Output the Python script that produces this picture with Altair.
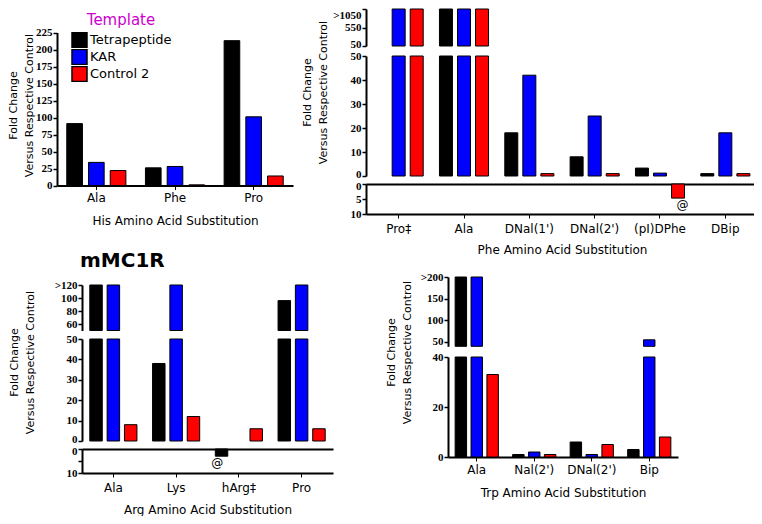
import altair as alt
import pandas as pd

series = ["Tetrapeptide", "KAR", "Control 2"]
series_colors = ["#000000", "#0000FF", "#FF0000"]

# His panel (Template)
his_cats = ["Ala", "Phe", "Pro"]
his_tetra = [91, 26, 213]
his_kar = [34, 28, 101]
his_ctrl = [22, 1, 14]

# Phe panel (">1050" bars stored as 1100)
phe_cats = ["Pro‡", "Ala", "DNal(1')", "DNal(2')", "(pI)DPhe", "DBip"]
phe_tetra = [None, 1100, 18, 8, 3.3, 1]
phe_kar = [1100, 1100, 42, 25, 1.2, 18]
phe_ctrl = [1100, 1100, 1, 1, -4.7, 1]

# Arg panel (mMC1R, ">120" bars stored as 130)
arg_cats = ["Ala", "Lys", "hArg‡", "Pro"]
arg_tetra = [130, 38, -3, 96]
arg_kar = [130, 130, None, 130]
arg_ctrl = [8, 12, 6, 6]

# Trp panel (">200" bars stored as 250)
trp_cats = ["Ala", "Nal(2')", "DNal(2')", "Bip"]
trp_tetra = [250, 1, 6, 3]
trp_kar = [250, 2, 1, 55]
trp_ctrl = [33, 1, 5, 8]


def long(panel, cats, tetra, kar, ctrl):
    rows = []
    for i, c in enumerate(cats):
        for s, vals in zip(series, (tetra, kar, ctrl)):
            v = vals[i]
            if v is None:
                continue
            rows.append({"panel": panel, "cat": c, "series": s, "value": v, "mag": abs(v)})
    return rows


df = pd.DataFrame(
    long("his", his_cats, his_tetra, his_kar, his_ctrl)
    + long("phe", phe_cats, phe_tetra, phe_kar, phe_ctrl)
    + long("arg", arg_cats, arg_tetra, arg_kar, arg_ctrl)
    + long("trp", trp_cats, trp_tetra, trp_kar, trp_ctrl)
)

O = 8
W = 746
H = 508
SANS = "DejaVu Sans"
SERIF = "Liberation Serif"
YTITLE = ["Fold Change", "Versus Respective Control"]

LEG = alt.Legend(
    orient="none", legendX=63, legendY=5, padding=0,
    title="Template", titleColor="#CC00CC", titleFont=SANS, titleFontSize=15,
    titleFontWeight="normal", titleAnchor="middle", titlePadding=4,
    symbolType="square", symbolSize=225, symbolStrokeColor="black",
    symbolStrokeWidth=1.5, symbolOpacity=1, clipHeight=16,
    labelFont=SANS, labelFontSize=13, labelOffset=2, rowPadding=1,
)

COLOR = alt.Color("series:N", scale=alt.Scale(domain=series, range=series_colors), legend=LEG)


def xscale(cats, xr):
    return alt.Scale(domain=cats, range=[xr[0] - O, xr[1] - O], paddingInner=0, paddingOuter=0)


def xoff():
    return alt.Scale(domain=series, paddingInner=0.28, paddingOuter=0.45)


def yaxis(x0, values, expr=None, shift=None, top_base=None, title=None, title_y=None, title_x=None):
    kw = dict(orient="left", offset=-(x0 - O), values=values, labelFont=SERIF,
              labelFontWeight="bold", labelFontSize=11, labelPadding=1, tickSize=4,
              domainWidth=2, tickWidth=1.5, grid=False)
    if expr:
        kw["labelExpr"] = expr
    if shift is not None:
        v, d = shift
        kw["labelOffset"] = {"condition": {"test": f"datum.value == {v}", "value": d}, "value": 0}
    if top_base is not None:
        kw["labelBaseline"] = {"condition": {"test": f"datum.value == {top_base}", "value": "top"},
                               "value": "middle"}
    if title:
        kw.update(title=title, titleY=title_y - O, titleX=title_x, titleFont=SANS,
                  titleFontSize=11, titleFontWeight="normal", titleLineHeight=16,
                  titleAlign="center", titleAngle=270, titleBaseline="bottom")
    else:
        kw["title"] = None
    return alt.Axis(**kw)


def xbottom(y, title, title_dy, lab_pad):
    return alt.Axis(orient="bottom", offset=(y - O) - H, title=title, titleY=title_dy,
                    titleBaseline="middle", titleFont=SANS, titleFontSize=12,
                    titleFontWeight="normal", labelFont=SANS, labelFontSize=12,
                    labelAngle=0, labelPadding=lab_pad, tickSize=4, domainWidth=2,
                    labelBaseline="top", grid=False)


def xtop(y):
    return alt.Axis(orient="top", offset=-(y - O), labels=False, ticks=False,
                    title=None, domainWidth=2, grid=False)


def bar_layer(panel, cats, xr, field, ydom, yr, cond, base, yax, xax):
    return alt.Chart(df).transform_filter(
        f"datum.panel == '{panel}' && {cond}"
    ).mark_bar(stroke="black", strokeWidth=1).encode(
        x=alt.X("cat:N", scale=xscale(cats, xr), axis=xax),
        xOffset=alt.XOffset("series:N", scale=xoff()),
        y=alt.Y(f"{field}:Q", axis=yax,
                scale=alt.Scale(domain=ydom, range=[yr[0] - O, yr[1] - O],
                                clamp=True, nice=False, zero=False)),
        y2=alt.datum(base),
        color=COLOR,
    )


def at_layer(panel, cats, xr, yr, xax):
    return alt.Chart(df).transform_filter(
        f"datum.panel == '{panel}' && datum.value < 0"
    ).mark_text(text="@", baseline="top", dy=2, font=SANS, fontSize=12, color="black").encode(
        x=alt.X("cat:N", scale=xscale(cats, xr), axis=xax),
        xOffset=alt.XOffset("series:N", scale=xoff()),
        y=alt.Y("mag:Q", axis=None,
                scale=alt.Scale(domain=[0, 10], range=[yr[0] - O, yr[1] - O], nice=False, zero=False)),
    )


layers = []

# Panel 1: His
p1x = (57, 293)
layers.append(bar_layer("his", his_cats, p1x, "value", [0, 225], (185.5, 32.5), "datum.value > 0", 0,
                        yaxis(57, list(range(0, 226, 25)), title=YTITLE, title_y=105, title_x=-39),
                        xbottom(185.5, "His Amino Acid Substitution", 35, 3)))

# Panel 2: Phe
p2x = (366, 758)
layers.append(bar_layer("phe", phe_cats, p2x, "value", [50, 1050], (46, 9), "datum.value > 50", 50,
                        yaxis(366, [50, 550, 1050], expr="datum.value == 1050 ? '>1050' : datum.label",
                              shift=(50, -2), top_base=1050),
                        None))
layers.append(bar_layer("phe", phe_cats, p2x, "value", [0, 50], (176, 56), "datum.value > 0", 0,
                        yaxis(366, [0, 10, 20, 30, 40, 50], shift=(0, -1.5),
                              title=YTITLE, title_y=92, title_x=-54),
                        None))
layers.append(bar_layer("phe", phe_cats, p2x, "mag", [0, 10], (184, 214), "datum.value < 0", 0,
                        yaxis(366, [0, 5, 10], shift=(0, 2)), xtop(184)))
layers.append(at_layer("phe", phe_cats, p2x, (184, 214),
                       xbottom(214, "Phe Amino Acid Substitution", 35, 5)))

# Panel 3: Arg (mMC1R)
p3x = (82, 333)
layers.append(bar_layer("arg", arg_cats, p3x, "value", [50, 120], (330.5, 285), "datum.value > 50", 50,
                        yaxis(82, [60, 80, 100, 120], expr="datum.value == 120 ? '>120' : datum.label"),
                        None))
layers.append(bar_layer("arg", arg_cats, p3x, "value", [0, 50], (441, 339), "datum.value > 0", 0,
                        yaxis(82, [0, 10, 20, 30, 40, 50], shift=(0, -1.5),
                              title=YTITLE, title_y=362, title_x=-63),
                        None))
layers.append(bar_layer("arg", arg_cats, p3x, "mag", [0, 10], (449, 473), "datum.value < 0", 0,
                        yaxis(82, [0, 5, 10], shift=(0, 2)), xtop(449)))
layers.append(at_layer("arg", arg_cats, p3x, (449, 473),
                       xbottom(473, "Arg Amino Acid Substitution", 36, 5)))

# Panel 4: Trp
p4x = (448, 678)
layers.append(bar_layer("trp", trp_cats, p4x, "value", [40, 200], (346.3, 277), "datum.value > 40", 40,
                        yaxis(448, [50, 100, 150, 200], expr="datum.value == 200 ? '>200' : datum.label"),
                        None))
layers.append(bar_layer("trp", trp_cats, p4x, "value", [0, 40], (457, 357), "datum.value > 0", 0,
                        yaxis(448, [0, 20, 40], title=YTITLE, title_y=352, title_x=-52),
                        xbottom(457, "Trp Amino Acid Substitution", 35, 3)))

chart = alt.layer(*layers).resolve_scale(
    x="independent", y="independent", xOffset="independent"
).properties(
    width=W, height=H, padding=0,
    autosize=alt.AutoSizeParams(type="none"),
    title=alt.TitleParams("mMC1R", anchor="start", frame="group", font=SANS, fontSize=20,
                          fontWeight="bold", dx=72, dy=273, baseline="middle", offset=0,
                          color="black"),
).configure_view(stroke=None).configure_axis(
    domainColor="black", tickColor="black", labelColor="black", titleColor="black"
)

chart.save("out.html", embed_options={"renderer": "svg", "actions": False})
